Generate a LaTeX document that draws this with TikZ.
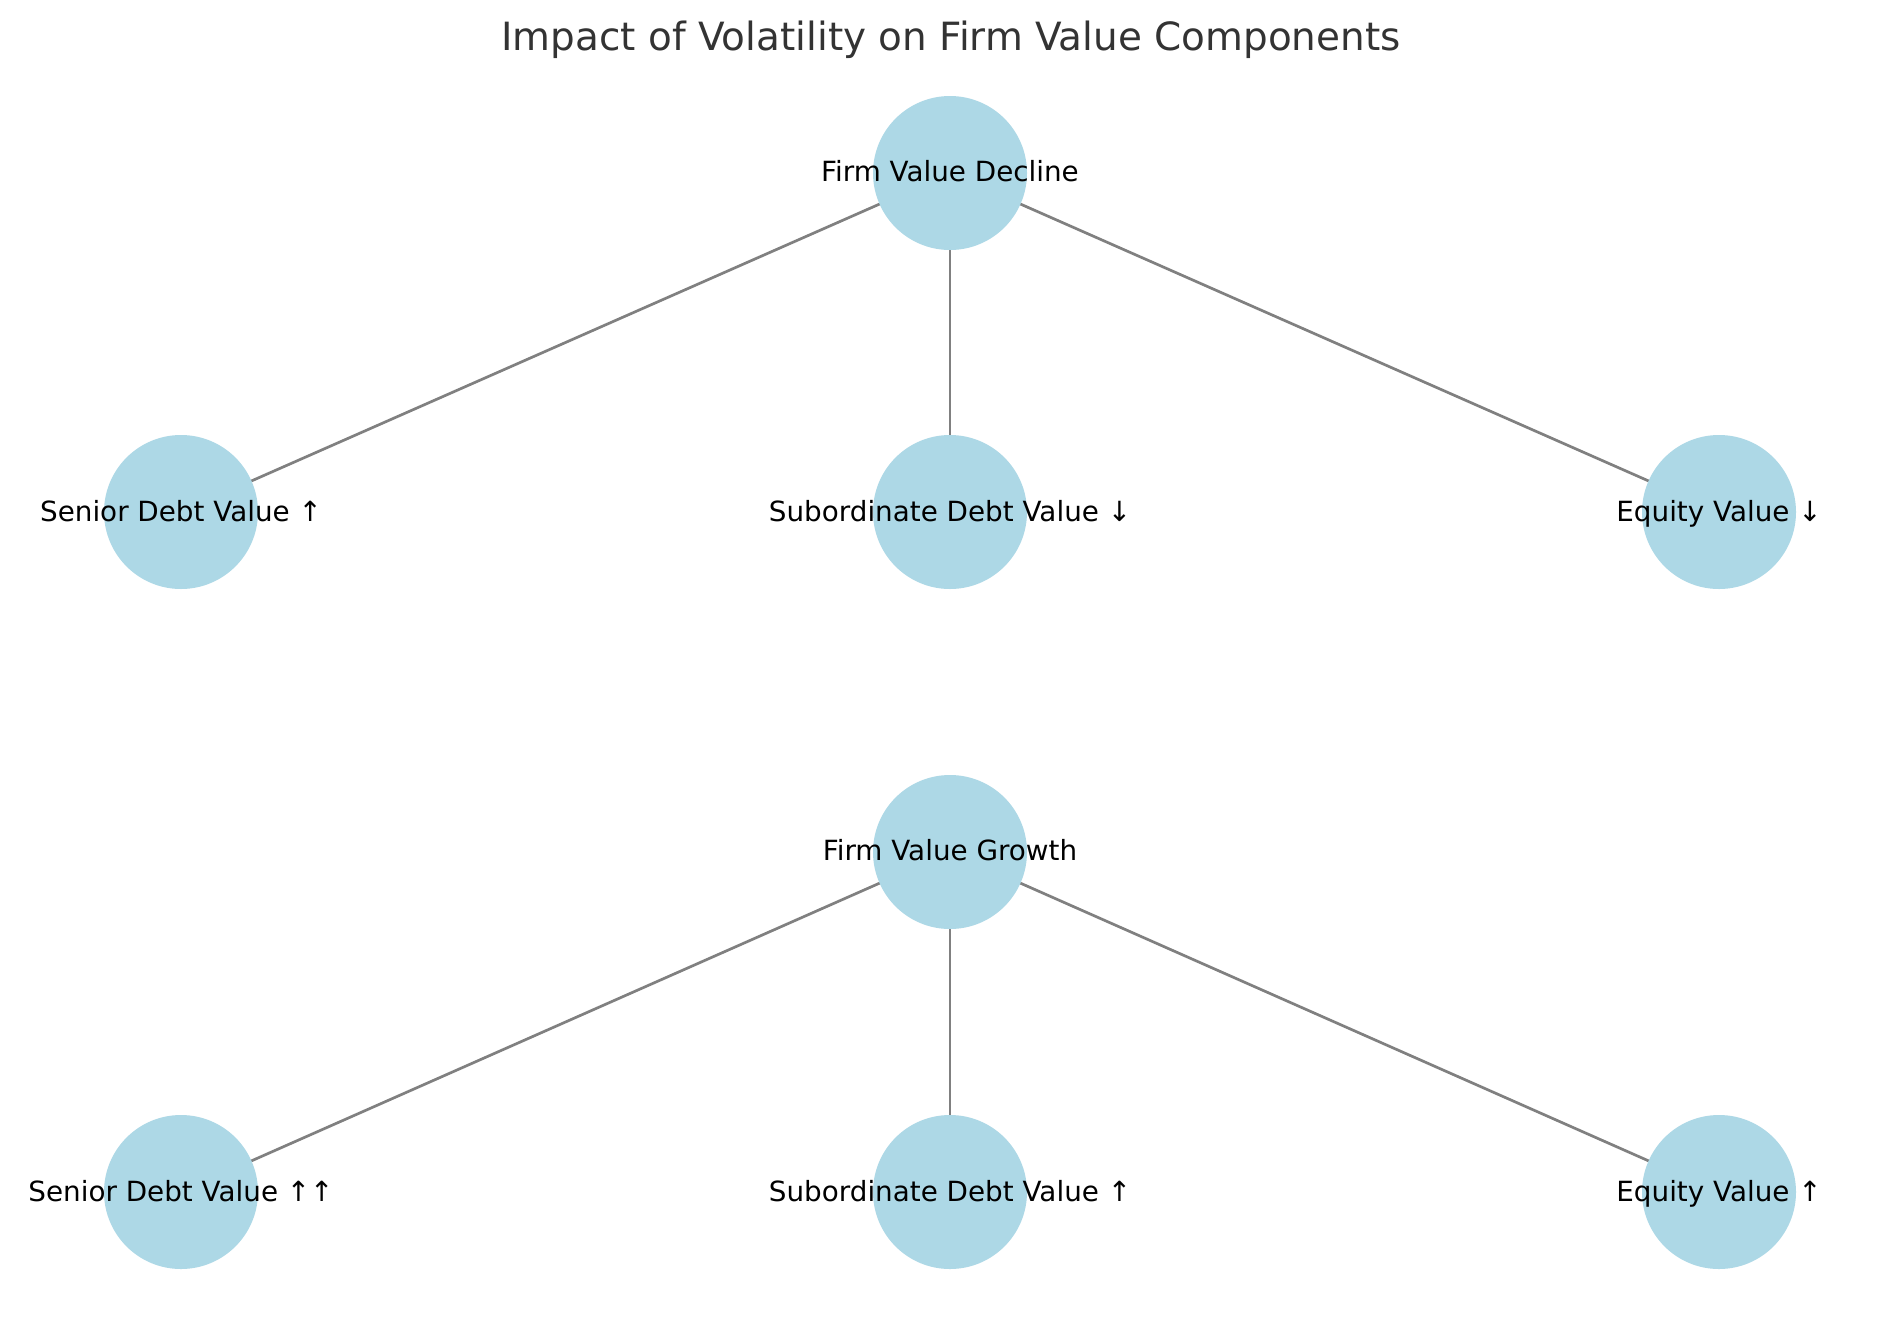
\documentclass[tikz,border=0pt]{standalone}
\usepackage{fontspec}
\setmainfont{DejaVu Sans}
\usetikzlibrary{backgrounds}
\definecolor{nodeblue}{HTML}{ADD8E6}
\definecolor{edgegray}{HTML}{808080}
\definecolor{titlegray}{HTML}{333333}
\tikzset{
  vnode/.style={circle, fill=nodeblue, draw=none, minimum size=154pt, inner sep=0pt},
  vlabel/.style={anchor=base, inner sep=0pt, text=black, font=\fontsize{27.8}{33}\selectfont},
  vedge/.style={draw=edgegray, line width=2.7pt},
  vtitle/.style={anchor=base, inner sep=0pt, text=titlegray, font=\fontsize{38.9}{46}\selectfont}
}
\begin{document}
\begin{tikzpicture}[x=1pt, y=-1pt]
\useasboundingbox (0,0) rectangle (1900,1318);

\node[vtitle] (title) at (951,50.7) {Impact of Volatility on Firm Value Components};

% top tree
\node[vnode] (fd) at (950,173) {};
\node[vnode] (sd1) at (181,512) {};
\node[vnode] (sub1) at (950,512) {};
\node[vnode] (eq1) at (1719,512) {};
% bottom tree
\node[vnode] (fg) at (950,852) {};
\node[vnode] (sd2) at (181,1192) {};
\node[vnode] (sub2) at (950,1192) {};
\node[vnode] (eq2) at (1719,1192) {};

\begin{pgfonlayer}{background}
\fill[white] (0,0) rectangle (1900,1318);
\draw[vedge] (fd.center) -- (sd1.center);
\draw[vedge] (fd.center) -- (sub1.center);
\draw[vedge] (fd.center) -- (eq1.center);
\draw[vedge] (fg.center) -- (sd2.center);
\draw[vedge] (fg.center) -- (sub2.center);
\draw[vedge] (fg.center) -- (eq2.center);
\end{pgfonlayer}

\node[vlabel] (lfd) at ([yshift=-8.5pt]fd.center) {Firm Value Decline};
\node[vlabel] (lsd1) at ([yshift=-9.5pt]sd1.center) {Senior Debt Value ↑};
\node[vlabel] (lsub1) at ([yshift=-9.5pt]sub1.center) {Subordinate Debt Value ↓};
\node[vlabel] (leq1) at ([yshift=-9.5pt]eq1.center) {Equity Value ↓};
\node[vlabel] (lfg) at ([yshift=-8pt]fg.center) {Firm Value Growth};
\node[vlabel] (lsd2) at ([yshift=-9.5pt]sd2.center) {Senior Debt Value ↑↑};
\node[vlabel] (lsub2) at ([yshift=-9.5pt]sub2.center) {Subordinate Debt Value ↑};
\node[vlabel] (leq2) at ([yshift=-9.5pt]eq2.center) {Equity Value ↑};
\end{tikzpicture}
\end{document}
